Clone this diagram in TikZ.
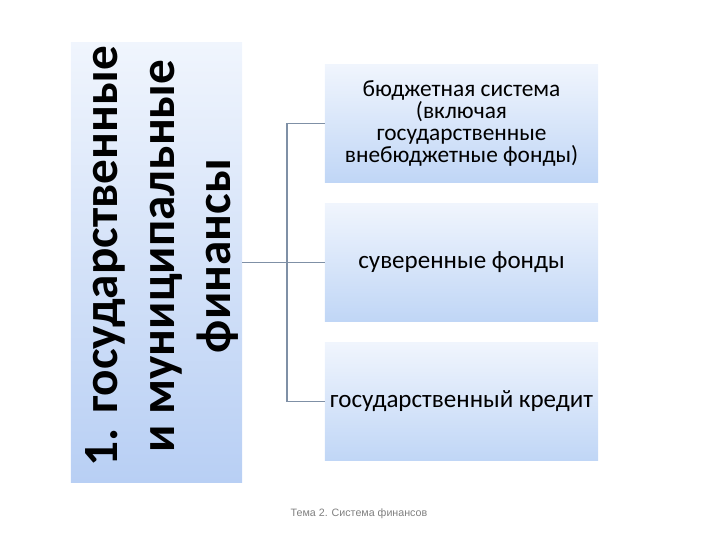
\documentclass[tikz,border=0pt]{standalone}
\usepackage{fontspec}
\setmainfont{Carlito}
\newfontfamily\footfont{Liberation Sans}
\definecolor{paleblue}{HTML}{F0F5FD}
\definecolor{softblue}{HTML}{B8CFF4}
\definecolor{boxblue}{HTML}{C0D6F6}
\definecolor{linkgray}{HTML}{7F90A6}

\tikzstyle{every node}=[inner sep=0pt]
\tikzstyle{leftbox}=[top color=paleblue, bottom color=softblue, minimum width=4.275cm, minimum height=10.975cm]
\tikzstyle{itembox}=[top color=paleblue, bottom color=boxblue, minimum width=6.825cm, minimum height=2.925cm, align=center, font=\fontsize{17.8}{15.6}\selectfont]
\tikzstyle{link}=[draw=linkgray, line width=1.4pt]

\begin{document}
\begin{tikzpicture}[x=0.025cm, y=-0.025cm]
  \useasboundingbox (0,0) rectangle (720,540);
  \node[leftbox] (finbox) at (156.5,262.5) {};
  \node[rotate=90, align=center, font=\fontsize{35}{40.4}\selectfont\bfseries] (fintext) at (162,256) {1. государственные\\и муниципальные\\финансы};
  \node[itembox, font=\fontsize{16.6}{15.8}\selectfont] (budget) at (461.5,123.5) {бюджетная система\\(включая\\государственные\\внебюджетные фонды)};
  \node[itembox] (sovereign) at (461.5,262.5) {суверенные фонды};
  \node[itembox] (credit) at (461.5,401.5) {государственный кредит};
  \coordinate (spine) at (287,262.5);
  \draw[link] (finbox.east) -- (sovereign.west);
  \draw[link] (budget.west) -- (budget.west -| spine) -- (credit.west -| spine) -- (credit.west);
  \node[font=\footfont\fontsize{7.6}{8}\selectfont, text=gray] (footer) at (359,514) {Тема 2. Система финансов};
\end{tikzpicture}
\end{document}
